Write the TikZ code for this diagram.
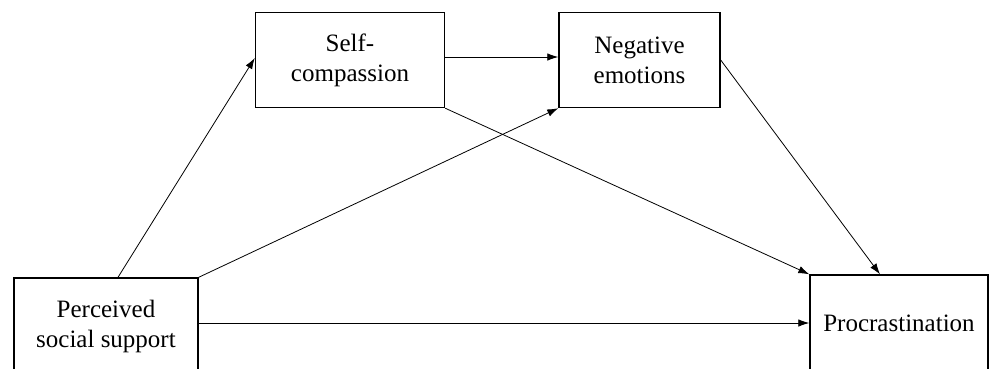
\documentclass[tikz,border=0pt]{standalone}
\usepackage{fontspec}
\setmainfont{Liberation Serif}
\usetikzlibrary{arrows.meta,calc}
\begin{document}
\begin{tikzpicture}[x=1pt,y=-1pt,
  box/.style={draw,line width=1.4pt,fill=white,inner sep=0pt,align=center,
    font=\fontsize{25}{30}\selectfont},
  arr/.style={line width=0.8pt,-{Latex[length=11pt,width=7.5pt]}}]
\useasboundingbox (0,0) rectangle (989,368);
\clip (0,0) rectangle (989,368);
\node[box,minimum width=189pt,minimum height=95pt] (SC) at (350,60) {Self-\\compassion};
\node[box,minimum width=161pt,minimum height=95pt] (NE) at (639.5,60) {Negative\\emotions};
\node[box,minimum width=184pt,minimum height=96pt] (P) at (106,326) {Perceived\\social support};
\node[box,minimum width=178pt,minimum height=96pt] (PR) at (899,323) {Procrastination};
\draw[arr] ([xshift=12pt]P.north) -- ([yshift=2pt]SC.west);
\draw[arr] (P.north east) -- (NE.south west);
\draw[arr] ([yshift=3pt]SC.east) -- ([yshift=3pt]NE.west);
\draw[arr] (SC.south east) -- (PR.north west);
\draw[arr] (NE.east) -- ([xshift=-19pt]PR.north);
\draw[arr] ([yshift=3pt]P.east) -- ([yshift=3pt]P.east -| PR.west);
\end{tikzpicture}
\end{document}
